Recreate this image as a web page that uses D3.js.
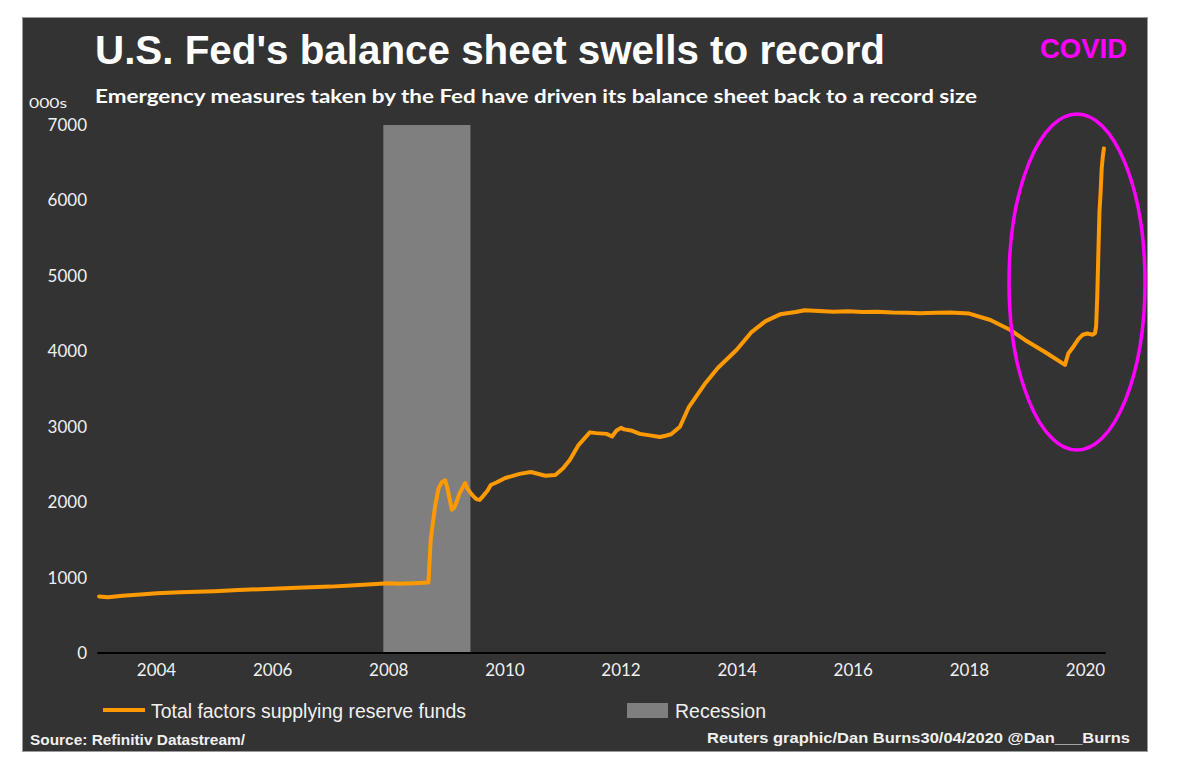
<!DOCTYPE html>
<html>
<head>
<meta charset="utf-8">
<script src="https://cdn.jsdelivr.net/npm/d3@7"></script>
<style>
  html, body { margin: 0; padding: 0; background: #fff; }
  svg { display: block; }
  .narrow { font-family: "Liberation Sans Narrow", "Arial Narrow", "Liberation Sans", sans-serif; }
  .tick text { font-family: Lato, "Open Sans", sans-serif; font-size: 17px; fill: #f0f0f0; }
</style>
</head>
<body>
<svg width="1182" height="762"></svg>
<script>
"use strict";

//series: weekly-ish readings of total factors supplying reserve funds ($bn)
const dates = [
  "2003-01-08","2003-03-05","2003-06-04","2003-09-03","2004-01-07","2004-06-02","2005-01-05","2005-06-01",
  "2006-01-04","2006-06-07","2007-01-03","2007-06-06","2008-01-02","2008-03-05","2008-06-04","2008-09-10",
  "2008-09-24","2008-10-22","2008-11-12","2008-12-03","2008-12-24","2009-01-07","2009-01-21","2009-02-04",
  "2009-02-18","2009-03-04","2009-03-25","2009-04-29","2009-05-13","2009-06-10","2009-07-08","2009-07-29",
  "2009-08-19","2009-09-16","2009-10-07","2009-11-11","2010-01-06","2010-04-07","2010-06-16","2010-09-15",
  "2010-11-17","2011-01-05","2011-02-16","2011-04-13","2011-06-22","2011-08-03","2011-10-05","2011-11-09",
  "2011-12-07","2012-01-04","2012-01-25","2012-03-07","2012-05-02","2012-07-04","2012-09-05","2012-10-10",
  "2012-11-14","2013-01-09","2013-03-06","2013-06-19","2013-09-04","2014-01-01","2014-04-02","2014-07-02",
  "2014-10-01","2015-01-07","2015-03-04","2015-06-03","2015-09-02","2015-12-02","2016-03-02","2016-06-01",
  "2016-09-07","2016-12-07","2017-03-01","2017-06-07","2017-09-06","2017-12-06","2018-01-03","2018-05-16",
  "2018-09-19","2018-12-19","2019-04-24","2019-08-28","2019-09-18","2019-10-16","2019-11-20","2019-12-18",
  "2020-01-15","2020-02-19","2020-03-04","2020-03-11","2020-03-18","2020-03-25","2020-04-01","2020-04-08",
  "2020-04-15","2020-04-22","2020-04-29"
];
const values = [
  750, 740, 760, 772, 792, 805, 820, 836,
  852, 866, 880, 898, 925, 918, 925, 935,
  1500, 1950, 2180, 2265, 2290, 2190, 2040, 1900,
  1920, 1990, 2120, 2254, 2180, 2100, 2040, 2030,
  2080, 2150, 2227, 2260, 2320, 2375, 2400, 2350,
  2360, 2450, 2560, 2760, 2925, 2915, 2905, 2870,
  2950, 2985, 2965, 2950, 2905, 2885, 2864, 2880,
  2900, 3000, 3261, 3580, 3778, 4020, 4250, 4400,
  4490, 4520, 4545, 4535, 4525, 4530, 4520, 4525,
  4515, 4510, 4505, 4510, 4515, 4505, 4500, 4415,
  4282, 4150, 3990, 3820, 3970, 4050, 4160, 4220,
  4235, 4220, 4240, 4330, 4720, 5300, 5850, 6100,
  6420, 6580, 6690
];

//recession band
const recessionStart = "2007-12-01";
const recessionEnd = "2009-06-01";

//axis tick labels
const yTicks = [0, 1000, 2000, 3000, 4000, 5000, 6000, 7000];
const xTickYears = [2004, 2006, 2008, 2010, 2012, 2014, 2016, 2018, 2020];

//texts
const titleText = "U.S. Fed's balance sheet swells to record";
const subtitleText = "Emergency measures taken by the Fed have driven its balance sheet back to a record size";
const unitText = "000s";
const seriesName = "Total factors supplying reserve funds";
const recessionName = "Recession";
const sourceText = "Source: Refinitiv Datastream/";
const creditText = "Reuters graphic/Dan Burns30/04/2020 @Dan___Burns";
const noteText = "COVID";

//colours
const lineColor = "#ff9900";
const bandColor = "#7f7f7f";
const panelColor = "#333333";
const noteColor = "#ff00ff";

const parse = d3.timeParse("%Y-%m-%d");
const series = dates.map((d, i) => ({date: parse(d), value: values[i]}));

var svg = d3.select("svg");

//dark panel
svg.append("rect")
  .attr("x", 22.5).attr("y", 17.5).attr("width", 1125).attr("height", 734)
  .attr("fill", panelColor).attr("stroke", "#9a9a9a").attr("stroke-width", 1);

//scales
const x = d3.scaleTime()
  .domain([new Date(2004, 0, 1), new Date(2020, 0, 1)])
  .range([156, 1085]);
const y = d3.scaleLinear().domain([0, 7000]).range([653, 125]);

//recession band
svg.append("rect")
  .attr("x", x(parse(recessionStart)))
  .attr("y", y(7000))
  .attr("width", x(parse(recessionEnd)) - x(parse(recessionStart)))
  .attr("height", y(0) - y(7000))
  .attr("fill", bandColor);

//y axis labels
svg.append("g")
  .attr("transform", "translate(96,0)")
  .call(d3.axisLeft(y).tickValues(yTicks).tickSize(0).tickPadding(9).tickFormat(d3.format("d")))
  .call(g => g.select(".domain").remove());

//x axis labels
svg.append("g")
  .attr("transform", "translate(0," + y(0) + ")")
  .call(d3.axisBottom(x)
    .tickValues(xTickYears.map(yr => new Date(yr, 0, 1)))
    .tickSize(0).tickPadding(11).tickFormat(d3.timeFormat("%Y")))
  .call(g => g.select(".domain").remove());

//zero line
svg.append("line")
  .attr("x1", x(new Date(2002, 11, 28))).attr("x2", x(new Date(2020, 4, 10)))
  .attr("y1", y(0)).attr("y2", y(0))
  .attr("stroke", "#000").attr("stroke-width", 2);

//the series
const line = d3.line().x(d => x(d.date)).y(d => y(d.value));
svg.append("path")
  .datum(series)
  .attr("d", line)
  .attr("fill", "none")
  .attr("stroke", lineColor)
  .attr("stroke-width", 4)
  .attr("stroke-linejoin", "round")
  .attr("stroke-linecap", "round");

//titles
svg.append("text")
  .attr("class", "narrow")
  .attr("x", 95).attr("y", 64)
  .attr("font-size", 40).attr("font-weight", 700)
  .attr("fill", "#fff")
  .attr("textLength", 790).attr("lengthAdjust", "spacingAndGlyphs")
  .text(titleText);

svg.append("text")
  .attr("x", 95).attr("y", 103)
  .style("font-family", "Lato, 'Open Sans', sans-serif")
  .attr("font-size", 18).attr("font-weight", 700)
  .attr("fill", "#fff")
  .attr("textLength", 882).attr("lengthAdjust", "spacingAndGlyphs")
  .text(subtitleText);

svg.append("text")
  .attr("x", 29).attr("y", 108)
  .style("font-family", "Lato, 'Open Sans', sans-serif")
  .attr("font-size", 14)
  .attr("fill", "#f0f0f0")
  .attr("textLength", 38).attr("lengthAdjust", "spacingAndGlyphs")
  .text(unitText);

//COVID note and ellipse
svg.append("text")
  .attr("x", 1040).attr("y", 58)
  .style("font-family", "'Liberation Sans', Arial, sans-serif")
  .attr("font-size", 27).attr("font-weight", 700)
  .attr("fill", noteColor)
  .attr("textLength", 87).attr("lengthAdjust", "spacingAndGlyphs")
  .text(noteText);

svg.append("ellipse")
  .attr("cx", 1077).attr("cy", 282).attr("rx", 68).attr("ry", 168)
  .attr("fill", "none").attr("stroke", noteColor).attr("stroke-width", 3.5);

//legend
const legend = svg.append("g").attr("class", "narrow");
legend.append("line")
  .attr("x1", 103).attr("x2", 145).attr("y1", 710).attr("y2", 710)
  .attr("stroke", lineColor).attr("stroke-width", 4);
legend.append("text")
  .attr("x", 151).attr("y", 718)
  .attr("font-size", 20).attr("fill", "#f0f0f0")
  .attr("textLength", 315).attr("lengthAdjust", "spacingAndGlyphs")
  .text(seriesName);
legend.append("rect")
  .attr("x", 627).attr("y", 703).attr("width", 41).attr("height", 15)
  .attr("fill", bandColor);
legend.append("text")
  .attr("x", 675).attr("y", 718)
  .attr("font-size", 20).attr("fill", "#f0f0f0")
  .attr("textLength", 91).attr("lengthAdjust", "spacingAndGlyphs")
  .text(recessionName);

//footer
svg.append("text")
  .attr("class", "narrow")
  .attr("x", 30).attr("y", 745)
  .attr("font-size", 15).attr("font-weight", 700).attr("fill", "#f0f0f0")
  .attr("textLength", 215).attr("lengthAdjust", "spacingAndGlyphs")
  .text(sourceText);
svg.append("text")
  .attr("class", "narrow")
  .attr("x", 707).attr("y", 743)
  .attr("font-size", 15).attr("font-weight", 700).attr("fill", "#f0f0f0")
  .attr("textLength", 423).attr("lengthAdjust", "spacingAndGlyphs")
  .text(creditText);
</script>
</body>
</html>
